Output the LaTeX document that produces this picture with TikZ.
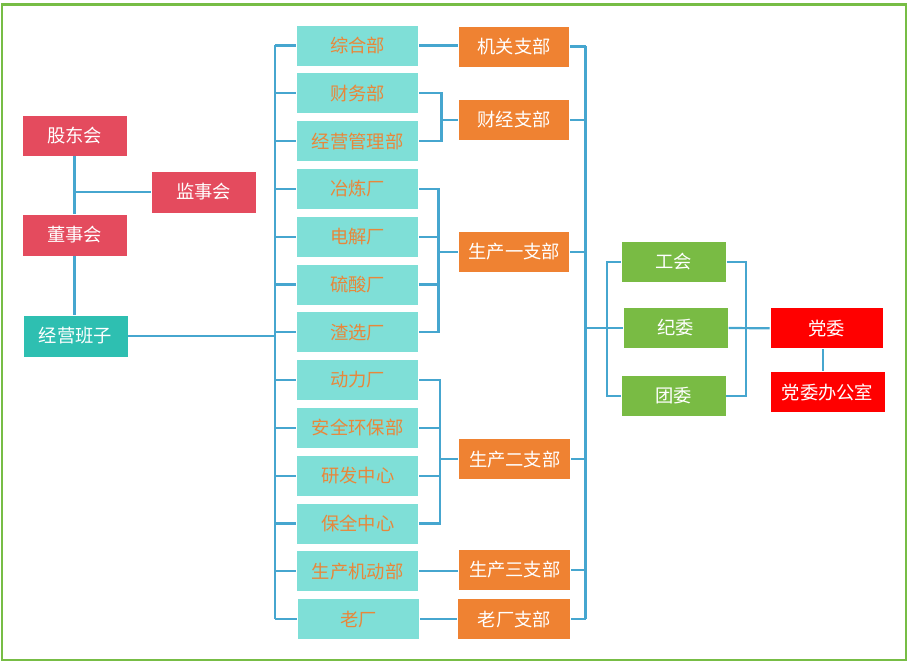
\documentclass[tikz,border=0pt]{standalone}
\usepackage{fontspec}
\setmainfont{Noto Sans CJK SC}
\usetikzlibrary{calc}
\definecolor{bordergreen}{HTML}{77BD45}
\definecolor{boardred}{HTML}{E44B5E}
\definecolor{mgmtteal}{HTML}{2EBFB1}
\definecolor{lightteal}{HTML}{7FDFD7}
\definecolor{deptorange}{HTML}{E8873A}
\definecolor{branchorange}{HTML}{EF8232}
\definecolor{orggreen}{HTML}{79BB44}
\definecolor{partyred}{HTML}{FF0000}
\definecolor{linkblue}{HTML}{46A6CF}
\tikzset{
  basebox/.style={rectangle, inner sep=0pt, font=\fontsize{18.3}{21}\selectfont, draw=white, line width=0.8pt},
  redbox/.style={basebox, fill=boardred, text=white, minimum width=105pt, minimum height=41pt},
  mgmtbox/.style={basebox, fill=mgmtteal, text=white, minimum width=105pt, minimum height=42pt},
  deptbox/.style={basebox, fill=lightteal, text=deptorange, minimum width=122pt, minimum height=41pt},
  branchbox/.style={basebox, fill=branchorange, text=white, minimum width=111pt, minimum height=41pt},
  grnbox/.style={basebox, fill=orggreen, text=white, minimum width=105pt, minimum height=41pt},
  partybox/.style={basebox, fill=partyred, text=white, minimum height=41pt},
  link/.style={draw=linkblue, line width=2.2pt}
}
\begin{document}
\begin{tikzpicture}[x=1pt,y=-1pt]
\useasboundingbox (0,0) rectangle (911,663);
\draw[bordergreen, line width=2.6pt] (2,4.5) rectangle (906,660);

% left governance
\node[redbox] (gdh) at (74.5,135.5) {股东会};
\node[redbox, minimum height=42pt] (jsh) at (203.5,192) {监事会};
\node[redbox, minimum height=42pt] (dsh) at (74.5,235) {董事会};
\node[mgmtbox] (jybz) at (75.5,336) {经营班子};

% departments
\foreach \n/\t [count=\i from 0] in {m1/综合部, m2/财务部, m3/经营管理部, m4/冶炼厂, m5/电解厂, m6/硫酸厂, m7/渣选厂, m8/动力厂, m9/安全环保部, m10/研发中心, m11/保全中心, m12/生产机动部}
  \node[deptbox] (\n) at (357.7, 45.5+47.8*\i) {\t};
\node[deptbox] (m13) at (358.8, 619.3) {老厂};

% branches
\node[branchbox] (o1) at (514.2,46.5) {机关支部};
\node[branchbox] (o2) at (514.2,120) {财经支部};
\node[branchbox] (o3) at (514.2,252) {生产一支部};
\node[branchbox, minimum width=112pt] (o4) at (514.8,459.3) {生产二支部};
\node[branchbox, minimum width=112pt] (o5) at (514.8,569.7) {生产三支部};
\node[branchbox, minimum width=113pt] (o6) at (514.3,619.3) {老厂支部};

% green
\node[grnbox] (g1) at (673.7,262) {工会};
\node[grnbox] (g2) at (675.7,328) {纪委};
\node[grnbox] (g3) at (673.5,396) {团委};

% party
\node[partybox, minimum width=113pt] (p1) at (826.5,328.3) {党委};
\node[partybox, minimum width=115pt] (p2) at (827.5,392) {党委办公室};

% coordinates
\coordinate (busLtop) at (275,45.5);
\coordinate (busLbot) at (275,619.3);
\coordinate (busRtop) at (585.5,46.5);
\coordinate (busRbot) at (585.5,619.3);
\coordinate (k2) at (441.5,120);
\coordinate (k3) at (438.5,252);
\coordinate (k4) at (440,459.3);
\coordinate (gL) at (606.7,328);
\coordinate (gR) at (745.7,328.5);
\coordinate (pv) at (823.3,360);

% left connectors
\draw[link] (gdh.south) -- (gdh.south |- dsh.north);
\draw[link] (gdh.south |- jsh.west) -- (jsh.west);
\draw[link] (dsh.south) -- (dsh.south |- jybz.north);
\draw[link] (jybz.east) -- (busLtop |- jybz.east);

% left bus
\draw[link] (busLtop) -- (busLbot);
\foreach \n in {m1,m2,m3,m4,m5,m6,m7,m8,m9,m10,m11,m12,m13}
  \draw[link] (busLtop |- \n.west) -- (\n.west);

% dept to branch
\draw[link] (m1.east) -- (m1.east -| o1.west);
\draw[link] (m2.east) -| (k2) |- (m3.east);
\draw[link] (k2) -- (o2.west);
\draw[link] (m4.east) -| (k3) |- (m7.east);
\draw[link] (m5.east) -- (m5.east -| k3);
\draw[link] (m6.east) -- (m6.east -| k3);
\draw[link] (k3) -- (o3.west);
\draw[link] (m8.east) -| (k4) |- (m11.east);
\draw[link] (m9.east) -- (m9.east -| k4);
\draw[link] (m10.east) -- (m10.east -| k4);
\draw[link] (k4) -- (o4.west);
\draw[link] (m12.east) -- (m12.east -| o5.west);
\draw[link] (m13.east) -- (m13.east -| o6.west);

% right bus
\draw[link] (busRtop) -- (busRbot);
\foreach \n in {o1,o2,o3,o4,o5,o6}
  \draw[link] (\n.east) -- (busRtop |- \n.east);

% to green
\draw[link] (busRtop |- g2.west) -- (g2.west);
\draw[link] (g1.west) -| (gL) |- (g3.west);
\draw[link] (g1.east) -| (gR) |- (g3.east);
\draw[link] (g2.east) -- (p1.west);
\draw[link] (p1.south -| pv) -- (p2.north -| pv);
\end{tikzpicture}
\end{document}
